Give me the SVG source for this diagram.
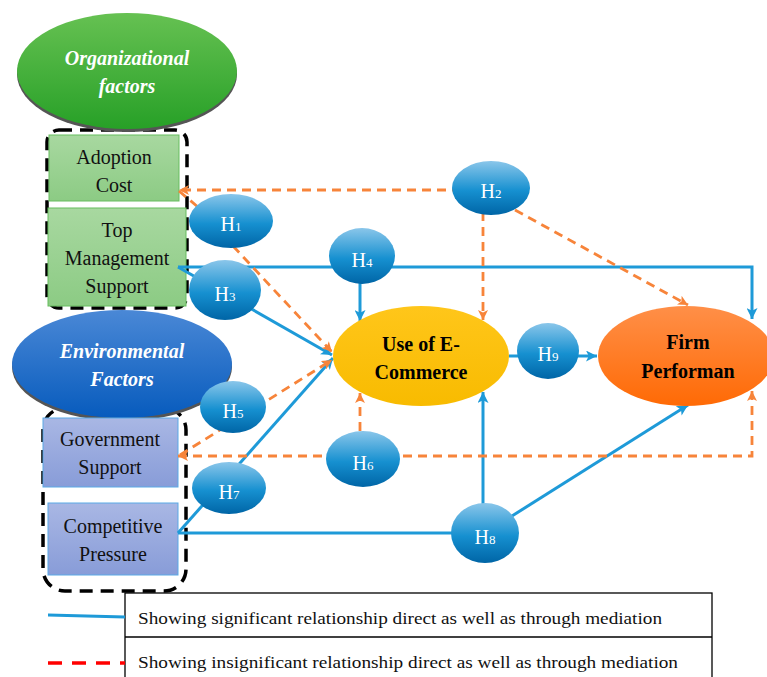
<svg xmlns="http://www.w3.org/2000/svg" width="767" height="677" viewBox="0 0 767 677">
<defs>
<linearGradient id="gGreen" x1="0" y1="0" x2="0" y2="1"><stop offset="0" stop-color="#66c152"/><stop offset="1" stop-color="#27a027"/></linearGradient>
<linearGradient id="gBlue" x1="0" y1="0" x2="0" y2="1"><stop offset="0" stop-color="#4a88d6"/><stop offset="1" stop-color="#075bbd"/></linearGradient>
<linearGradient id="gGold" x1="0" y1="0" x2="0" y2="1"><stop offset="0" stop-color="#ffc61a"/><stop offset="1" stop-color="#f8bb00"/></linearGradient>
<linearGradient id="gOrange" x1="0" y1="0" x2="0" y2="1"><stop offset="0" stop-color="#ff8f48"/><stop offset="1" stop-color="#ff6a05"/></linearGradient>
<linearGradient id="gH" x1="0" y1="0" x2="0" y2="1"><stop offset="0" stop-color="#8ac6ea"/><stop offset="0.55" stop-color="#1690d0"/><stop offset="1" stop-color="#0065a6"/></linearGradient>
<linearGradient id="gBoxG" x1="0" y1="0" x2="0" y2="1"><stop offset="0" stop-color="#a8d8a0"/><stop offset="1" stop-color="#8ccb84"/></linearGradient>
<linearGradient id="gBoxB" x1="0" y1="0" x2="0" y2="1"><stop offset="0" stop-color="#a9b7e4"/><stop offset="1" stop-color="#889cd8"/></linearGradient>
<marker id="aBlue" viewBox="0 0 10 10" refX="10" refY="5" markerWidth="12" markerHeight="11" markerUnits="userSpaceOnUse" orient="auto-start-reverse"><path d="M0,0 L10,5 L0,10 L2.5,5 z" fill="#1e9ad8"/></marker>
<marker id="aOrange" viewBox="0 0 10 10" refX="10" refY="5" markerWidth="11" markerHeight="10" markerUnits="userSpaceOnUse" orient="auto-start-reverse"><path d="M0,0 L10,5 L0,10 L2.5,5 z" fill="#f7843a"/></marker>
</defs>
<style>
.blue{fill:none;stroke:#1e9ad8;stroke-width:3}
.or{fill:none;stroke:#f7843a;stroke-width:2.8;stroke-dasharray:9 6}
.grp{fill:none;stroke:#000;stroke-width:3.5;stroke-dasharray:13 8}
.big{font-family:"Liberation Serif",serif;font-weight:bold;font-style:italic;font-size:20px;fill:#fff;text-anchor:middle}
.bold{font-family:"Liberation Serif",serif;font-weight:bold;font-size:20px;fill:#000;text-anchor:middle}
.box{font-family:"Liberation Serif",serif;font-size:20px;fill:#111;text-anchor:middle}
.h{font-family:"Liberation Serif",serif;font-size:20px;fill:#fff;text-anchor:middle}
.hs{font-size:13px}
.leg{font-family:"Liberation Serif",serif;font-size:16px;fill:#111}
.hb{fill:url(#gH)}
</style>
<rect width="767" height="677" fill="#fff"/>

<g id="groups">
<rect class="grp" x="47" y="130" width="140" height="178" rx="12"/>
<rect class="grp" x="43" y="408" width="143" height="183" rx="22"/>
</g>

<g id="org">
<ellipse cx="127" cy="74" rx="110" ry="58" fill="#555"/>
<ellipse cx="127" cy="71" rx="110" ry="58" fill="url(#gGreen)"/>
<text class="big" x="127" y="65">Organizational</text>
<text class="big" x="127" y="93">factors</text>
</g>

<g id="env">
<ellipse cx="122" cy="367" rx="110" ry="54" fill="#555"/>
<ellipse cx="122" cy="364" rx="110" ry="54" fill="url(#gBlue)"/>
<text class="big" x="122" y="358">Environmental</text>
<text class="big" x="122" y="386">Factors</text>
</g>

<g id="adoption">
<rect x="49" y="135" width="130" height="66" fill="url(#gBoxG)" stroke="#66bd5e" stroke-width="1"/>
<text class="box" x="114" y="164">Adoption</text>
<text class="box" x="114" y="192">Cost</text>
</g>
<g id="topmgmt">
<rect x="48" y="208" width="138" height="98" fill="url(#gBoxG)" stroke="#66bd5e" stroke-width="1"/>
<text class="box" x="117" y="237">Top</text>
<text class="box" x="117" y="265">Management</text>
<text class="box" x="117" y="293">Support</text>
</g>
<g id="govt">
<rect x="43" y="418" width="135" height="69" fill="url(#gBoxB)" stroke="#5aa9e6" stroke-width="1"/>
<text class="box" x="110" y="446">Government</text>
<text class="box" x="110" y="474">Support</text>
</g>
<g id="comp">
<rect x="48" y="503" width="130" height="72" fill="url(#gBoxB)" stroke="#5aa9e6" stroke-width="1"/>
<text class="box" x="113" y="533">Competitive</text>
<text class="box" x="113" y="561">Pressure</text>
</g>

<g id="connectors">
<path class="blue" d="M178,267 H752 V319" marker-end="url(#aBlue)"/>
<path class="blue" d="M178,267 L332,355" marker-end="url(#aBlue)"/>
<path class="blue" d="M360,283 V321" marker-end="url(#aBlue)"/>
<path class="blue" d="M178,533 L333,358" marker-end="url(#aBlue)"/>
<path class="blue" d="M178,533 H470"/>
<path class="blue" d="M483,520 V392" marker-end="url(#aBlue)"/>
<path class="blue" d="M485,533 L688,405" marker-end="url(#aBlue)"/>
<path class="blue" d="M509,356 H597" marker-end="url(#aBlue)"/>

<path class="or" d="M491,190 H179" marker-end="url(#aOrange)"/>
<path class="or" d="M179,191 L205,213"/>
<path class="or" d="M233,246 L332,352" marker-end="url(#aOrange)"/>
<path class="or" d="M483,212 V320" marker-end="url(#aOrange)"/>
<path class="or" d="M515,210 L688,305" marker-end="url(#aOrange)"/>
<path class="or" d="M180,455 L332,360" marker-end="url(#aOrange)"/>
<path class="or" d="M178,456 H752 V391" marker-start="url(#aOrange)" marker-end="url(#aOrange)"/>
<path class="or" d="M360,431 V393" marker-end="url(#aOrange)"/>
</g>

<g id="ecommerce">
<ellipse cx="421" cy="356" rx="88" ry="50" fill="url(#gGold)"/>
<text class="bold" x="421" y="351">Use of E-</text>
<text class="bold" x="421" y="379">Commerce</text>
</g>
<g id="firm">
<ellipse cx="686" cy="356" rx="88" ry="50" fill="url(#gOrange)"/>
<text class="bold" x="688" y="349">Firm</text>
<text class="bold" x="688" y="378">Performan</text>
</g>

<g id="H1"><ellipse class="hb" cx="231" cy="221" rx="42" ry="27"/><text class="h" x="231" y="231">H<tspan class="hs">1</tspan></text></g>
<g id="H2"><ellipse class="hb" cx="491" cy="188" rx="39" ry="27"/><text class="h" x="491" y="198">H<tspan class="hs">2</tspan></text></g>
<g id="H3"><ellipse class="hb" cx="225" cy="290" rx="36" ry="30"/><text class="h" x="225" y="301">H<tspan class="hs">3</tspan></text></g>
<g id="H4"><ellipse class="hb" cx="362" cy="256" rx="33" ry="28"/><text class="h" x="362" y="267">H<tspan class="hs">4</tspan></text></g>
<g id="H5"><ellipse class="hb" cx="233" cy="407" rx="33" ry="26"/><text class="h" x="233" y="418">H<tspan class="hs">5</tspan></text></g>
<g id="H6"><ellipse class="hb" cx="363" cy="459" rx="37" ry="28"/><text class="h" x="363" y="470">H<tspan class="hs">6</tspan></text></g>
<g id="H7"><ellipse class="hb" cx="229" cy="488" rx="37" ry="26"/><text class="h" x="229" y="499">H<tspan class="hs">7</tspan></text></g>
<g id="H8"><ellipse class="hb" cx="485" cy="533" rx="34" ry="30"/><text class="h" x="485" y="544">H<tspan class="hs">8</tspan></text></g>
<g id="H9"><ellipse class="hb" cx="548" cy="351" rx="31" ry="28"/><text class="h" x="548" y="361">H<tspan class="hs">9</tspan></text></g>

<g id="legend">
<rect x="125" y="593" width="587" height="90" fill="#fff" stroke="#000" stroke-width="1.3"/>
<line x1="125" y1="637" x2="712" y2="637" stroke="#000" stroke-width="1.3"/>
<line x1="48" y1="615" x2="125" y2="617" stroke="#1e9ad8" stroke-width="3"/>
<line x1="48" y1="663" x2="125" y2="663" stroke="#ff0000" stroke-width="3.5" stroke-dasharray="14 10"/>
<text class="leg" x="138" y="624" textLength="524" lengthAdjust="spacingAndGlyphs">Showing significant relationship direct as well as through mediation</text>
<text class="leg" x="138" y="668" textLength="540" lengthAdjust="spacingAndGlyphs">Showing insignificant relationship direct as well as through mediation</text>
</g>
</svg>
